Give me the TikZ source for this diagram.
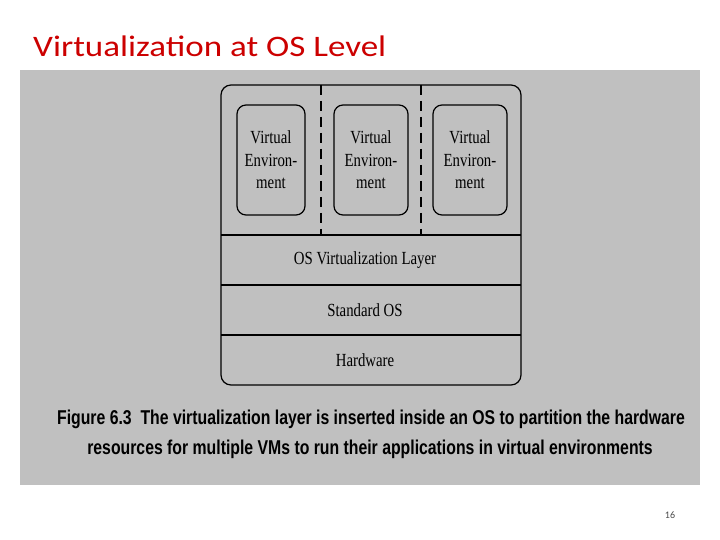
\documentclass[tikz,border=0pt]{standalone}
\usepackage{fontspec}
\setmainfont{Liberation Serif}
\newfontfamily\titlefont{Carlito}
\newfontfamily\capfont{Liberation Sans}
\definecolor{titlered}{RGB}{204,0,0}
\definecolor{panel}{RGB}{192,192,192}
\begin{document}
\begin{tikzpicture}[x=1pt,y=-1pt,
  lbl/.style={font=\fontsize{18.5}{18.5}\selectfont, inner sep=0pt},
  vebox/.style={draw, line width=1.2pt, rounded corners=9pt},
  ln/.style={line width=1.2pt}]
\useasboundingbox (0,0) rectangle (720,540);
\fill[white] (0,0) rectangle (720,540);
\node[anchor=west, text=titlered, font=\titlefont\fontsize{35}{35}\selectfont, inner sep=0pt] (title) at (33,46) {\scalebox{1}[0.85]{Virtualization at OS Level}};
\fill[panel] (20,70) rectangle (700,485);
\node[vebox, minimum width=300pt, minimum height=300pt, rounded corners=10pt] (outer) at (371,235) {};
\coordinate (l1a) at (221,235); \coordinate (l1b) at (521,235);
\coordinate (l2a) at (221,285); \coordinate (l2b) at (521,285);
\coordinate (l3a) at (221,335); \coordinate (l3b) at (521,335);
\draw[ln] (l1a) -- (l1b); \draw[ln] (l2a) -- (l2b); \draw[ln] (l3a) -- (l3b);
\coordinate (d1a) at (321,85); \coordinate (d1b) at (321,235);
\coordinate (d2a) at (421,85); \coordinate (d2b) at (421,235);
\draw[ln, dash pattern=on 10pt off 6pt] (d1a) -- (d1b);
\draw[ln, dash pattern=on 10pt off 6pt] (d2a) -- (d2b);
\node[vebox, minimum width=68pt, minimum height=110pt] (ve1) at (271,160) {};
\node[vebox, minimum width=74pt, minimum height=110pt] (ve2) at (371,160) {};
\node[vebox, minimum width=74pt, minimum height=110pt] (ve3) at (470,160) {};
\foreach \v in {ve1,ve2,ve3}{
  \node[lbl, align=center] at (\v) {\scalebox{0.8}[1]{Virtual}\\[4pt]\scalebox{0.8}[1]{Environ-}\\[4pt]\scalebox{0.8}[1]{ment}};}
\node[lbl] (osv) at (365,260) {\scalebox{0.8}[1]{OS Virtualization Layer}};
\node[lbl] (sos) at (365,310) {\scalebox{0.8}[1]{Standard OS}};
\node[lbl] (hw) at (365,360) {\scalebox{0.8}[1]{Hardware}};
\node[inner sep=0pt, font=\capfont\bfseries\fontsize{20}{20}\selectfont] (cap1) at (371,419) {\scalebox{0.79}[1]{Figure 6.3\ \ The virtualization layer is inserted inside an OS to partition the hardware}};
\node[inner sep=0pt, font=\capfont\bfseries\fontsize{20}{20}\selectfont] (cap2) at (370,449) {\scalebox{0.79}[1]{resources for multiple VMs to run their applications in virtual environments}};
\node[inner sep=0pt, font=\titlefont\fontsize{10}{10}\selectfont, text=black!70] (pg) at (670,515) {16};
\end{tikzpicture}
\end{document}
